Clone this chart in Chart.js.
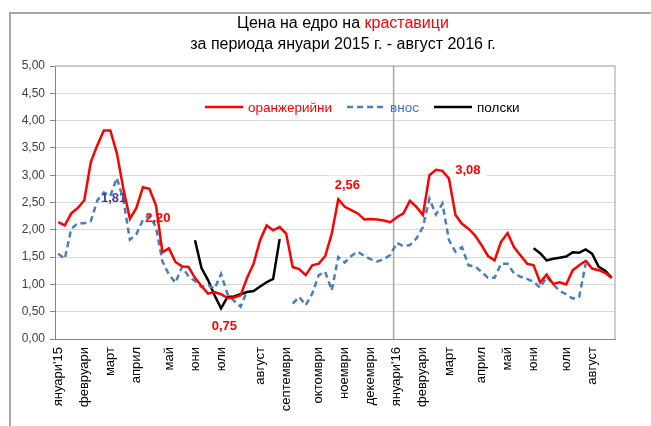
<!DOCTYPE html>
<html lang="bg">
<head>
    <meta charset="UTF-8">
    <title>Цена на едро на краставици</title>
    <script src="https://cdn.jsdelivr.net/npm/chart.js"></script>
    <style>
        body { margin: 0; background: #fff; font-family: "Liberation Sans", Arial, sans-serif; }
        #wrap { position: relative; width: 651px; height: 426px; overflow: hidden; }
        #frame { position: absolute; left: 9px; top: 12px; width: 700px; height: 500px; border: 2px solid #a6a6a6; }
        #title { position: absolute; left: 0; top: 12px; width: 686px; text-align: center; font-size: 16px; line-height: 21px; color: #000; }
        #title .hl { color: #ff0000; }
        canvas { position: absolute; left: 0; top: 0; }
    </style>
</head>
<body>
<div id="wrap">
    <div id="frame"></div>
    <canvas id="priceChart" width="651" height="426"></canvas>
    <div id="title">Цена на едро на <span class="hl">краставици</span><br>за периода януари 2015 г. - август 2016 г.</div>
</div>

<script>
    // weekly data, януари 2015 - август 2016 (86 weeks)
    const monthNames = ["януари'15", 'февруари', 'март', 'април', 'май', 'юни', 'юли', 'август', 'септември',
        'октомври', 'ноември', 'декември', "януари'16", 'февруари', 'март', 'април', 'май', 'юни', 'юли', 'август'];
    const monthStartWeek = [0, 4, 8, 12, 17, 21, 25, 31, 35, 40, 44, 48, 52, 56, 60, 65, 69, 73, 78, 82];

    const greenhouse = [2.14, 2.08, 2.30, 2.40, 2.54, 3.24, 3.55, 3.82, 3.82, 3.40,
        2.75, 2.20, 2.40, 2.78, 2.75, 2.45, 1.59, 1.66, 1.41, 1.33,
        1.32, 1.12, 0.97, 0.83, 0.86, 0.82, 0.75, 0.76, 0.80, 1.12,
        1.38, 1.81, 2.08, 1.99, 2.05, 1.93, 1.32, 1.28, 1.17, 1.35,
        1.38, 1.52, 1.93, 2.56, 2.42, 2.36, 2.30, 2.19, 2.20, 2.19,
        2.17, 2.14, 2.23, 2.30, 2.53, 2.42, 2.27, 3.00, 3.10, 3.08,
        2.94, 2.27, 2.11, 2.02, 1.90, 1.72, 1.52, 1.44, 1.78, 1.94,
        1.68, 1.53, 1.38, 1.35, 1.04, 1.18, 1.01, 1.04, 1.00, 1.26,
        1.35, 1.43, 1.29, 1.26, 1.21, 1.12];

    const imported = [1.56, 1.47, 2.02, 2.12, 2.12, 2.16, 2.54, 2.68, 2.62, 2.95,
        2.55, 1.82, 1.92, 2.18, 2.26, 2.05, 1.42, 1.18, 1.03, 1.32,
        1.15, 1.06, 0.95, 0.99, 0.92, 1.19, 0.82, 0.70, 0.59, 0.88,
        null, null, null, null, null, null, 0.65, 0.77, 0.62, 0.83,
        1.17, 1.23, 0.89, 1.50, 1.40, 1.52, 1.60, 1.52, 1.46, 1.42,
        1.46, 1.54, 1.76, 1.70, 1.72, 1.84, 2.05, 2.57, 2.28, 2.48,
        1.81, 1.60, 1.68, 1.35, 1.33, 1.23, 1.12, 1.12, 1.38, 1.38,
        1.20, 1.14, 1.10, 1.05, 0.94, 1.14, 1.00, 0.88, 0.82, 0.74,
        0.77, 1.38, null, null, null, null];

    const field = [null, null, null, null, null, null, null, null, null, null,
        null, null, null, null, null, null, null, null, null, null,
        null, 1.81, 1.30, 1.08, 0.80, 0.56, 0.77, 0.78, 0.82, 0.86,
        0.88, 0.96, 1.04, 1.10, 1.83, null, null, null, null, null,
        null, null, null, null, null, null, null, null, null, null,
        null, null, null, null, null, null, null, null, null, null,
        null, null, null, null, null, null, null, null, null, null,
        null, null, null, 1.66, 1.57, 1.44, 1.47, 1.49, 1.51, 1.59,
        1.58, 1.64, 1.56, 1.32, 1.25, 1.12];

    // data labels on the chart: text, week position, value position
    const noteTexts = ['1,81', '2,20', '0,75', '2,56', '3,08'];
    const noteWeeks = [8.5, 15.3, 25.5, 44.4, 62.9];
    const noteValues = [2.58, 2.20, 0.23, 2.81, 3.09];
    const noteColors = ['#3d3d9e', '#ff0000', '#ff0000', '#ff0000', '#ff0000'];
    const noteBoxed = [false, false, true, true, true];

    const weekLabels = greenhouse.map((_, i) => {
        const m = monthStartWeek.indexOf(i);
        return m >= 0 ? monthNames[m] : '';
    });

    const FONT = '"Liberation Sans", Arial, sans-serif';

    const extras = {
        id: 'extras',
        beforeDatasetsDraw(chart) {
            const { ctx, chartArea: a, scales: { x, y } } = chart;
            ctx.save();
            // plot border top/right
            ctx.strokeStyle = '#bfbfbf';
            ctx.lineWidth = 1.5;
            ctx.beginPath();
            ctx.moveTo(a.left, a.top);
            ctx.lineTo(a.right, a.top);
            ctx.lineTo(a.right, a.bottom);
            ctx.stroke();
            // year divider
            const xd = (x.getPixelForValue(51) + x.getPixelForValue(52)) / 2;
            ctx.strokeStyle = '#a6a6a6';
            ctx.beginPath();
            ctx.moveTo(xd, a.top);
            ctx.lineTo(xd, a.bottom);
            ctx.stroke();
            // white boxes behind labels
            ctx.font = 'bold 13px ' + FONT;
            noteTexts.forEach((t, k) => {
                if (!noteBoxed[k]) return;
                const px = x.getPixelForValue(noteWeeks[k]);
                const py = y.getPixelForValue(noteValues[k]);
                const w = ctx.measureText(t).width + 12;
                ctx.fillStyle = '#fff';
                ctx.fillRect(px - w / 2, py - 10, w, 20);
            });
            ctx.restore();
        },
        afterDatasetsDraw(chart) {
            const { ctx, chartArea: a, scales: { x, y } } = chart;
            ctx.save();
            ctx.font = 'bold 13px ' + FONT;
            ctx.textAlign = 'center';
            ctx.textBaseline = 'middle';
            noteTexts.forEach((t, k) => {
                ctx.fillStyle = noteColors[k];
                ctx.fillText(t, x.getPixelForValue(noteWeeks[k]), y.getPixelForValue(noteValues[k]));
            });

            // legend inside plot
            const ly = a.top + 41;
            let lx = a.left + 150;
            ctx.font = '13.5px ' + FONT;
            ctx.textAlign = 'left';
            const textColors = ['#ff0000', '#3c6fe0', '#000'];
            chart.data.datasets.forEach((ds, k) => {
                ctx.strokeStyle = ds.borderColor;
                ctx.lineWidth = 2.5;
                ctx.setLineDash(ds.borderDash || []);
                ctx.beginPath();
                ctx.moveTo(lx, ly);
                ctx.lineTo(lx + 38, ly);
                ctx.stroke();
                ctx.setLineDash([]);
                lx += 43;
                ctx.fillStyle = textColors[k];
                ctx.fillText(ds.label, lx, ly + 1);
                lx += ctx.measureText(ds.label).width + 15;
            });
            ctx.restore();
        }
    };

    const ctx = document.getElementById('priceChart').getContext('2d');
    new Chart(ctx, {
        type: 'line',
        data: {
            labels: weekLabels,
            datasets: [
                { label: 'оранжерийни', data: greenhouse, borderColor: '#ff0000', borderWidth: 2.5 },
                { label: 'внос', data: imported, borderColor: '#4a7ebb', borderWidth: 2.5, borderDash: [6, 4] },
                { label: 'полски', data: field, borderColor: '#000000', borderWidth: 2.5 }
            ].map(ds => Object.assign(ds, { pointRadius: 0, tension: 0, spanGaps: false, fill: false }))
        },
        options: {
            responsive: false,
            animation: false,
            layout: { padding: { top: 66, right: 36, left: 0, bottom: 0 } },
            plugins: {
                legend: { display: false },
                tooltip: { enabled: false },
                title: { display: false }
            },
            scales: {
                x: {
                    offset: true,
                    grid: { display: false, drawTicks: false },
                    border: { color: '#868686', width: 1 },
                    ticks: {
                        autoSkip: false, maxRotation: 90, minRotation: 90, padding: 8,
                        color: '#000', font: { size: 13, family: FONT }
                    },
                    afterFit: s => { s.height = 87; }
                },
                y: {
                    min: 0, max: 5,
                    ticks: {
                        stepSize: 0.5, padding: 5, color: '#404040',
                        font: { size: 12, family: FONT },
                        callback: v => v.toFixed(2).replace('.', ',')
                    },
                    grid: { color: '#d9d9d9', tickLength: 5, tickColor: '#868686' },
                    border: { color: '#868686', width: 1 },
                    afterFit: s => { s.width = 55; }
                }
            }
        },
        plugins: [extras]
    });
</script>
</body>
</html>
